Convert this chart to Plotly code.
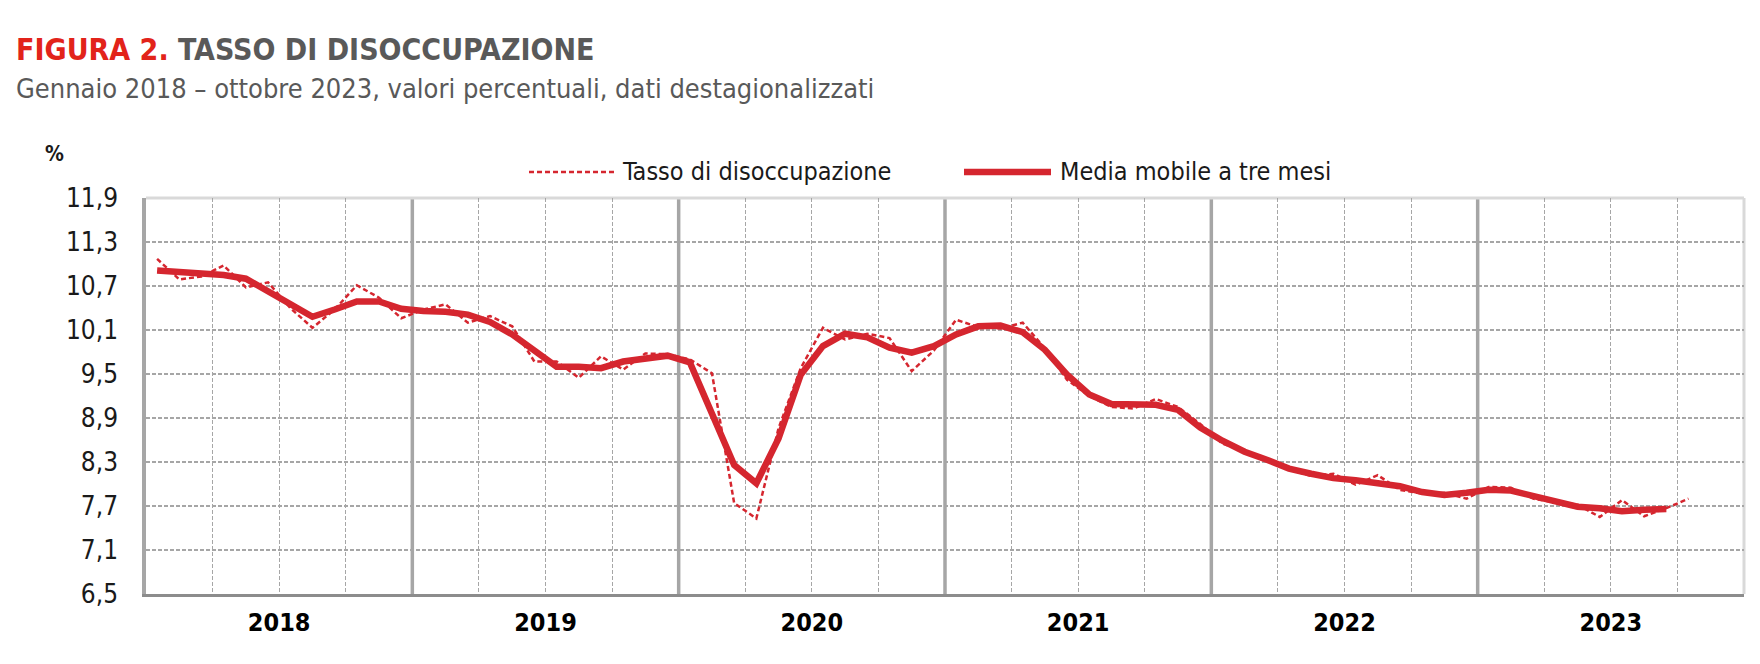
import plotly.graph_objects as go

# ---------------- DATA ----------------
anni = ["2018", "2019", "2020", "2021", "2022", "2023"]
mesi = ["gen", "feb", "mar", "apr", "mag", "giu", "lug", "ago", "set", "ott", "nov", "dic"]

# Tasso di disoccupazione mensile (gen 2018 - ott 2023), %
tasso = [
    11.07, 10.79, 10.83, 10.98, 10.68, 10.75, 10.40, 10.13, 10.38, 10.71, 10.54, 10.26,  # 2018
    10.38, 10.45, 10.20, 10.29, 10.15, 9.67, 9.67, 9.45, 9.74, 9.56, 9.78, 9.77,        # 2019
    9.70, 9.51, 7.74, 7.53, 8.76, 9.58, 10.13, 9.97, 10.05, 9.99, 9.54, 9.82,           # 2020
    10.24, 10.14, 10.12, 10.20, 9.85, 9.42, 9.20, 9.05, 9.03, 9.16, 9.05, 8.82,         # 2021
    8.55, 8.45, 8.33, 8.20, 8.11, 8.14, 7.99, 8.12, 7.92, 7.87, 7.88, 7.80,             # 2022
    7.96, 7.95, 7.80, 7.75, 7.72, 7.55, 7.78, 7.56, 7.67, 7.80,                         # 2023
]

# Media mobile a tre mesi (gen 2018 - set 2023), %
media_mobile = [
    10.91, 10.89, 10.87, 10.85, 10.80, 10.63, 10.45, 10.28, 10.38, 10.49, 10.49, 10.39,  # 2018
    10.36, 10.35, 10.31, 10.21, 10.04, 9.83, 9.60, 9.60, 9.58, 9.67, 9.72, 9.75,        # 2019
    9.66, 8.98, 8.26, 8.01, 8.62, 9.49, 9.88, 10.05, 10.00, 9.86, 9.79, 9.88,           # 2020
    10.04, 10.15, 10.16, 10.07, 9.83, 9.49, 9.22, 9.09, 9.08, 9.08, 9.01, 8.77,         # 2021
    8.59, 8.44, 8.33, 8.21, 8.14, 8.08, 8.05, 8.01, 7.97, 7.89, 7.85, 7.88,             # 2022
    7.92, 7.91, 7.84, 7.76, 7.69, 7.67, 7.63, 7.65, 7.66,                               # 2023
]

y_ticks = [6.5, 7.1, 7.7, 8.3, 8.9, 9.5, 10.1, 10.7, 11.3, 11.9]

# ---------------- STYLE ----------------
RED = "#D5262F"
TITLE_RED = "#E2231A"
GRAY_TXT = "#595959"
GRID = "#A6A6A6"
FONT = "'Liberation Sans Narrow', 'Arial Narrow', 'DejaVu Sans Condensed', sans-serif"

W, H = 1760, 664
L, R, T, B = 138, 24, 190, 78
PW, PH = W - L - R, H - T - B


def px_x(px):
    return (px - L) / PW


def px_y(py):
    return (H - B - py) / PH


etichette = [f"{m} {a}" for a in anni for m in mesi]
n_cat = len(anni) * 12
x_tasso = list(range(len(tasso)))
x_media = list(range(len(media_mobile)))

fig = go.Figure()
fig.add_trace(go.Scatter(
    x=x_tasso, y=tasso, mode="lines", name="Tasso di disoccupazione",
    line=dict(color=RED, width=2.5, dash="5px,3px"),
    text=etichette[:len(tasso)], hovertemplate="%{text}: %{y:.1f}<extra></extra>",
    showlegend=False,
))
fig.add_trace(go.Scatter(
    x=x_media, y=media_mobile, mode="lines", name="Media mobile a tre mesi",
    line=dict(color=RED, width=6.5),
    text=etichette[:len(media_mobile)], hovertemplate="%{text}: %{y:.2f}<extra></extra>",
    showlegend=False,
))

year_centers = [12 * i + 5.5 for i in range(len(anni))]
year_bounds = [12 * i - 0.5 for i in range(1, len(anni))]
quarter_bounds = [3 * k - 0.5 for k in range(1, n_cat // 3) if k % 4 != 0]

shapes = []
for xb in year_bounds:
    shapes.append(dict(type="line", xref="x", yref="paper", x0=xb, x1=xb, y0=0, y1=1,
                       line=dict(color=GRID, width=3.5), layer="below"))
# top and right border
shapes.append(dict(type="line", xref="paper", yref="paper", x0=0, x1=1, y0=1, y1=1,
                   line=dict(color="#D9D9D9", width=3), layer="below"))
shapes.append(dict(type="line", xref="paper", yref="paper", x0=1, x1=1, y0=0, y1=1,
                   line=dict(color="#D9D9D9", width=3), layer="below"))
# legend samples
leg_y = px_y(164)
shapes.append(dict(type="line", xref="paper", yref="paper", x0=px_x(521), x1=px_x(606),
                   y0=leg_y, y1=leg_y, line=dict(color=RED, width=2.5, dash="5px,3px")))
shapes.append(dict(type="line", xref="paper", yref="paper", x0=px_x(956), x1=px_x(1043),
                   y0=leg_y, y1=leg_y, line=dict(color=RED, width=6.5)))

annotations = [
    dict(xref="paper", yref="paper", x=px_x(6), y=px_y(41), xanchor="left", yanchor="middle",
         text=f"<b><span style='color:{TITLE_RED}'>FIGURA 2.</span> TASSO DI DISOCCUPAZIONE</b>",
         font=dict(family=FONT, size=30, color=GRAY_TXT), showarrow=False),
    dict(xref="paper", yref="paper", x=px_x(6), y=px_y(81), xanchor="left", yanchor="middle",
         text="Gennaio 2018 – ottobre 2023, valori percentuali, dati destagionalizzati",
         font=dict(family=FONT, size=27, color=GRAY_TXT), showarrow=False),
    dict(xref="paper", yref="paper", x=px_x(46), y=px_y(146), xanchor="center", yanchor="middle",
         text="<b>%</b>", font=dict(family=FONT, size=21, color="#1A1A1A"), showarrow=False),
    dict(xref="paper", yref="paper", x=px_x(612), y=leg_y, xanchor="left", yanchor="middle",
         text="Tasso di disoccupazione", font=dict(family=FONT, size=25, color="#1A1A1A"),
         showarrow=False),
    dict(xref="paper", yref="paper", x=px_x(1050), y=leg_y, xanchor="left", yanchor="middle",
         text="Media mobile a tre mesi", font=dict(family=FONT, size=25, color="#1A1A1A"),
         showarrow=False),
]

fig.update_layout(
    width=W, height=H, autosize=False,
    margin=dict(l=L, r=R, t=T, b=B, pad=0),
    paper_bgcolor="white", plot_bgcolor="white",
    separators=",.",
    showlegend=False,
    shapes=shapes, annotations=annotations,
    font=dict(family=FONT, color="#1A1A1A"),
    xaxis=dict(
        range=[-0.5, n_cat - 0.5], showgrid=False, zeroline=False,
        tickmode="array", tickvals=year_centers, ticktext=[f"<b>{a}</b>" for a in anni],
        tickfont=dict(family=FONT, size=25, color="#000000"),
        ticks="", ticklabelstandoff=4,
        showline=True, linecolor="#8C8C8C", linewidth=3,
        minor=dict(tickmode="array", tickvals=quarter_bounds, showgrid=True,
                   gridcolor=GRID, gridwidth=1, griddash="4px,2px", ticks=""),
        fixedrange=True,
    ),
    yaxis=dict(
        range=[6.5, 11.9], tickmode="array", tickvals=y_ticks, tickformat=".1f",
        showgrid=True, gridcolor=GRID, gridwidth=1.5, griddash="4px,2px",
        zeroline=False, ticks="", ticklabelstandoff=19,
        tickfont=dict(family=FONT, size=26, color="#1A1A1A"),
        showline=True, linecolor=GRID, linewidth=3.5,
        fixedrange=True,
    ),
)

fig.write_html("out.html")
